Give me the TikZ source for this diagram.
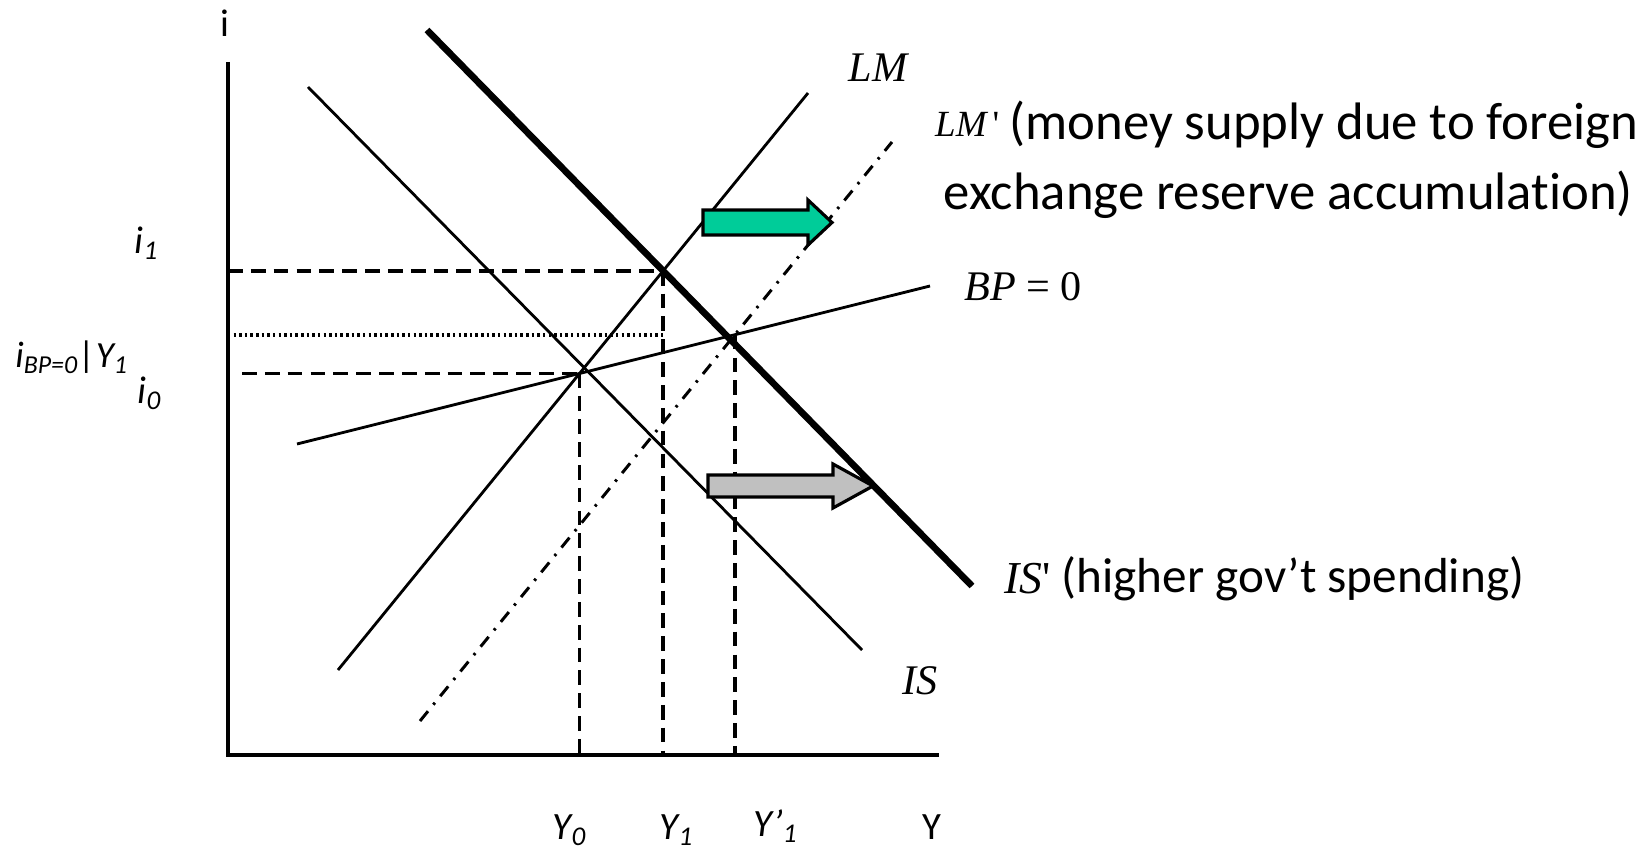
\documentclass[tikz,border=0pt]{standalone}
\usepackage{fontspec}
\setmainfont{Carlito}[Ligatures=NoCommon]
\newfontfamily\tmsfont{Liberation Serif}
\usetikzlibrary{calc}
\definecolor{shiftgreen}{HTML}{00CC99}
\definecolor{shiftgray}{HTML}{C0C0C0}
\tikzset{
  axis/.style={line width=1.1pt},
  curve/.style={line width=.8pt},
  curvebold/.style={line width=1.9pt},
  guide/.style={line width=1pt,dash pattern=on 4.2pt off 2.3pt},
  dotguide/.style={line width=1.1pt,dash pattern=on .7pt off .9pt},
  dashdot/.style={line width=.85pt,dash pattern=on 3.6pt off 2.4pt on .7pt off 2.4pt},
  shiftarrow/.style={draw,line width=.9pt,line join=miter},
  eqlabel/.style={font=\tmsfont\itshape\fontsize{12}{14}\selectfont,inner sep=0pt},
  axlabel/.style={font=\fontsize{11}{13}\selectfont,inner sep=0pt},
  itlabel/.style={font=\itshape\fontsize{11}{13}\selectfont,inner sep=0pt},
  notelabel/.style={font=\fontsize{15}{18}\selectfont,inner sep=0pt,anchor=west}}

\begin{document}
\begin{tikzpicture}
\path[use as bounding box] (0,0) rectangle (16.48,8.48);
% axes
\coordinate (O) at (2.28,.93);
\coordinate (itop) at (2.28,7.86);
\coordinate (Yend) at (9.39,.93);
\draw[axis] (itop) -- (O) -- (Yend);
% schedules
\coordinate (LMa) at (3.38,1.78);  \coordinate (LMb) at (8.08,7.55);
\coordinate (LMpa) at (4.20,1.27); \coordinate (LMpb) at (8.92,7.06);
\coordinate (ISa) at (3.08,7.61);  \coordinate (ISb) at (8.62,1.98);
\coordinate (ISpa) at (4.27,8.18); \coordinate (ISpb) at (9.72,2.62);
\coordinate (BPa) at (2.97,4.04);  \coordinate (BPb) at (9.30,5.62);
\draw[curve] (LMa) -- (LMb);
\draw[dashdot] (LMpa) -- (LMpb);
\draw[curve] (ISa) -- (ISb);
\draw[curvebold] (ISpa) -- (ISpb);
\draw[curve] (BPa) -- (BPb);
% equilibria
\coordinate (E0) at (intersection of LMa--LMb and BPa--BPb);
\coordinate (E1) at (intersection of LMa--LMb and ISpa--ISpb);
\coordinate (E2) at (intersection of LMpa--LMpb and BPa--BPb);
\draw[guide] ($(E0 -| O)+(.14,0)$) -- (E0);
\draw[guide] (E1 -| O) -- (E1);
\draw[dotguide] (E2 -| O) -- (E2 -| E1);
\draw[guide] (E0) -- (E0 |- O);
\draw[guide] (E1) -- (E1 |- O);
\draw[guide] (E2) -- (E2 |- O);
% shifts
\draw[shiftarrow,fill=shiftgreen] (7.03,6.13) -- (8.08,6.13) -- (8.08,6.03) -- (8.32,6.255)
  -- (8.08,6.48) -- (8.08,6.38) -- (7.03,6.38) -- cycle;
\draw[shiftarrow,fill=shiftgray] (7.08,3.51) -- (8.33,3.51) -- (8.33,3.40) -- (8.73,3.62)
  -- (8.33,3.84) -- (8.33,3.73) -- (7.08,3.73) -- cycle;
% labels
\node[axlabel] (ilab) at (2.25,8.25) {i};
\node[axlabel] (Ylab) at (9.32,.21) {Y};
\node[itlabel] (i1lab) at (1.47,6.05) {i\textsubscript{1}};
\node[itlabel,font=\itshape\fontsize{10.5}{12}\selectfont] (iBPlab) at (.72,4.91) {i\textsubscript{BP=0}|Y\textsubscript{1}};
\node[itlabel] (i0lab) at (1.50,4.55) {i\textsubscript{0}};
\node[itlabel] (Y0lab) at (5.70,.18) {Y\textsubscript{0}};
\node[itlabel] (Y1lab) at (6.77,.18) {Y\textsubscript{1}};
\node[itlabel] (Yp1lab) at (7.76,.22) {Y’\textsubscript{1}};
\node[eqlabel] (LMlab) at (8.78,7.80) {LM};
\node[eqlabel] (BPlab) at (10.23,5.61) {BP {\upshape = 0}};
\node[eqlabel] (ISlab) at (9.20,1.67) {IS};
\node[eqlabel,anchor=east,font=\tmsfont\itshape\fontsize{10.5}{12}\selectfont] (LMplab) at (10.0,7.24) {LM\,{\upshape\textquotesingle}};
\node[notelabel] (LMpnote) at (10.09,7.23) {(money supply due to foreign};
\node[notelabel] (LMpnote2) at (9.43,6.53) {exchange reserve accumulation)};
\node[eqlabel,anchor=west,font=\tmsfont\itshape\fontsize{13}{15}\selectfont] (ISplab) at (10.04,2.69) {IS{\upshape\textquotesingle}};
\node[notelabel,font=\fontsize{14}{17}\selectfont] (ISpnote) at (10.61,2.69) {(higher gov’t spending)};
\end{tikzpicture}
\end{document}
